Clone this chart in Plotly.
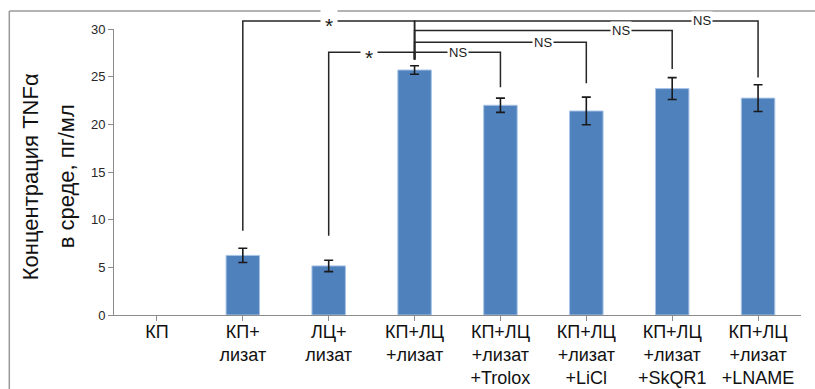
import plotly.graph_objects as go

# Groups and measured TNFα concentrations (pg/ml), mean ± error
categories = [
    "КП",
    "КП+<br>лизат",
    "ЛЦ+<br>лизат",
    "КП+ЛЦ<br>+лизат",
    "КП+ЛЦ<br>+лизат<br>+Trolox",
    "КП+ЛЦ<br>+лизат<br>+LiCl",
    "КП+ЛЦ<br>+лизат<br>+SkQR1",
    "КП+ЛЦ<br>+лизат<br>+LNAME",
]
values = [0, 6.25, 5.15, 25.7, 22.0, 21.4, 23.75, 22.75]
errors = [0, 0.75, 0.6, 0.45, 0.75, 1.45, 1.15, 1.4]
y_ticks = [0, 5, 10, 15, 20, 25, 30]
y_title_lines = ["Концентрация TNFα", "в среде, пг/мл"]
Y_MAX = 30

# Significance brackets: (left group, right group, bracket level, left leg end,
# right leg end, label, label position as a group index)
brackets = [
    (1, 3, 30.85, 8.85, 26.8, "*", 2.0),
    (2, 3, 27.56, 8.3, 26.8, "*", 2.47),
    (3, 4, 27.56, 26.8, 23.9, "NS", 3.5),
    (3, 5, 28.6, 26.8, 24.3, "NS", 4.5),
    (3, 6, 29.83, 26.8, 25.8, "NS", 5.4),
    (3, 7, 30.85, 26.8, 24.9, "NS", 6.35),
]

n = len(categories)


def xd(i):
    """Group index -> x-axis domain fraction."""
    return (i + 0.5) / n


def yd(v):
    """Value -> y-axis domain fraction."""
    return v / Y_MAX


# Empty groups (zero value) get no bar and no error bar
bar_y = [v if v > 0 else None for v in values]

fig = go.Figure()
fig.add_trace(go.Bar(
    x=list(range(n)),
    y=bar_y,
    width=0.39,
    marker=dict(color="#4F81BD", line=dict(color="#A9C4E6", width=1)),
    error_y=dict(type="data", array=errors, visible=True,
                 color="#1a1a1a", thickness=1.6, width=4.5),
))

line_style = dict(color="#262626", width=1.5)
shapes = []
annotations = []
for left, right, level, left_end, right_end, label, label_x in brackets:
    path = (f"M {xd(left)},{yd(left_end)} L {xd(left)},{yd(level)} "
            f"L {xd(right)},{yd(level)} L {xd(right)},{yd(right_end)}")
    shapes.append(dict(type="path", xref="x domain", yref="y domain",
                       path=path, line=line_style, layer="above"))
    is_star = label == "*"
    annotations.append(dict(
        x=xd(label_x), y=yd(level), xref="x domain", yref="y domain",
        xanchor="center", yanchor="middle",
        text=label, showarrow=False,
        font=dict(family="Liberation Sans, Arial", size=21 if is_star else 13,
                  color="#1a1a1a"),
        bgcolor="white", borderpad=4 if is_star else 1,
        yshift=-5 if is_star else 0,
    ))

# Y-axis title, two rotated lines
for text, xpos in zip(y_title_lines, [-0.1223, -0.0699]):
    annotations.append(dict(
        x=xpos, y=0.485, xref="paper", yref="paper",
        xanchor="center", yanchor="middle", textangle=-90,
        text=text, showarrow=False,
        font=dict(family="Liberation Sans, Arial", size=22, color="#111111"),
    ))

# Outer frame around the chart (top and left edges)
shapes.append(dict(type="line", xref="paper", yref="paper",
                   x0=-0.1524, x1=1.1, y0=1.0633, y1=1.0633,
                   line=dict(color="#9a9a9a", width=1.5)))
shapes.append(dict(type="line", xref="paper", yref="paper",
                   x0=-0.1524, x1=-0.1524, y0=-0.3, y1=1.0633,
                   line=dict(color="#9a9a9a", width=1.5)))

fig.update_layout(
    width=815, height=389,
    margin=dict(l=114, r=14, t=29, b=74),
    paper_bgcolor="white", plot_bgcolor="white",
    showlegend=False,
    shapes=shapes,
    annotations=annotations,
    font=dict(family="Liberation Sans, Arial"),
    xaxis=dict(
        tickmode="array", tickvals=list(range(n)), ticktext=categories,
        range=[-0.5, n - 0.5], automargin=False,
        showline=True, linecolor="#8c8c8c", linewidth=1,
        ticks="outside", ticklen=5, tickcolor="#8c8c8c",
        tickson="boundaries", ticklabelstandoff=-5,
        tickfont=dict(size=18, color="#111111"),
        showgrid=False, zeroline=False,
    ),
    yaxis=dict(
        range=[0, Y_MAX], tickvals=y_ticks, automargin=False,
        showline=True, linecolor="#8c8c8c", linewidth=1,
        ticks="outside", ticklen=5, tickcolor="#8c8c8c",
        tickfont=dict(size=13, color="#262626"),
        showgrid=False, zeroline=False,
    ),
)

fig.write_html("out.html")
